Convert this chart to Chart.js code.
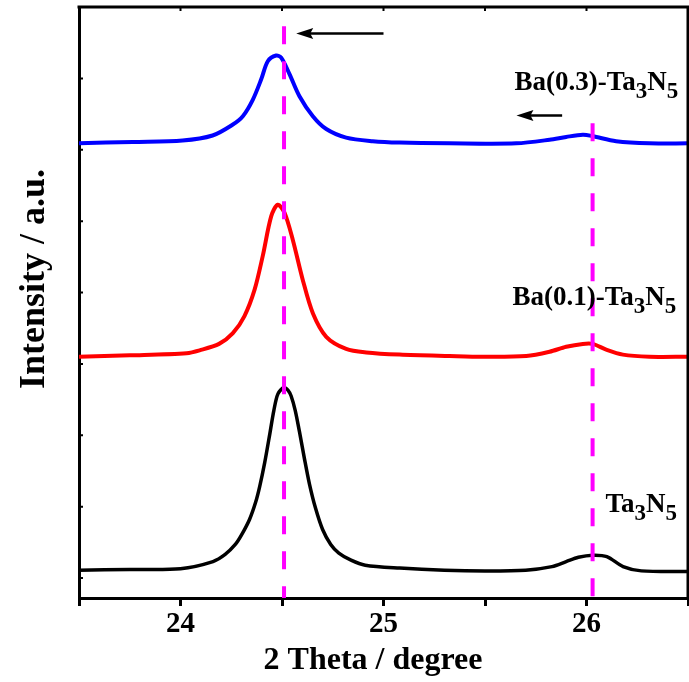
<!DOCTYPE html>
<html>
<head>
<meta charset="utf-8">
<script src="https://cdn.jsdelivr.net/npm/chart.js@4.4.1/dist/chart.umd.min.js"></script>
<style>
  html, body { margin: 0; padding: 0; background: #fff; }
  #wrap { width: 689px; height: 682px; }
</style>
</head>
<body>
<div id="wrap"><canvas id="xrdChart"></canvas></div>
<script>
// XRD patterns, 2 theta vs offset intensity (a.u.)
var ta3n5X = [23.5, 23.75, 24.0, 24.16, 24.22, 24.27, 24.30, 24.34, 24.37, 24.39, 24.415, 24.44, 24.46, 24.48, 24.51, 24.53, 24.545, 24.565, 24.586, 24.61, 24.635, 24.665, 24.70, 24.74, 24.78, 24.84, 24.91, 25.08, 25.3, 25.5, 25.7, 25.83, 25.9, 25.96, 26.03, 26.1, 26.18, 26.27, 26.5];
var ta3n5Y = [0.11, 0.12, 0.13, 0.23, 0.33, 0.47, 0.60, 0.82, 1.06, 1.28, 1.62, 2.02, 2.35, 2.58, 2.67, 2.63, 2.55, 2.35, 2.05, 1.68, 1.32, 0.98, 0.68, 0.47, 0.35, 0.25, 0.18, 0.14, 0.11, 0.1, 0.11, 0.16, 0.23, 0.29, 0.32, 0.3, 0.16, 0.1, 0.09];

var ba01X = [23.5, 23.75, 24.03, 24.094, 24.19, 24.258, 24.315, 24.365, 24.405, 24.447, 24.479, 24.512, 24.553, 24.602, 24.652, 24.718, 24.816, 24.915, 25.079, 25.325, 25.488, 25.703, 25.818, 25.9, 25.982, 26.031, 26.097, 26.179, 26.31, 26.5];
var ba01Y = [3.10, 3.12, 3.15, 3.19, 3.28, 3.43, 3.67, 4.04, 4.51, 5.07, 5.23, 5.12, 4.74, 4.18, 3.71, 3.38, 3.21, 3.16, 3.13, 3.11, 3.10, 3.11, 3.17, 3.24, 3.28, 3.28, 3.20, 3.13, 3.10, 3.10];

var ba03X = [23.5, 23.764, 24.01, 24.158, 24.256, 24.307, 24.356, 24.398, 24.43, 24.471, 24.496, 24.537, 24.586, 24.652, 24.718, 24.816, 24.947, 25.079, 25.325, 25.654, 25.818, 25.9, 25.982, 26.031, 26.146, 26.31, 26.5];
var ba03Y = [6.09, 6.11, 6.13, 6.20, 6.35, 6.47, 6.70, 6.99, 7.24, 7.32, 7.29, 7.06, 6.75, 6.47, 6.29, 6.17, 6.12, 6.10, 6.09, 6.09, 6.14, 6.18, 6.21, 6.19, 6.12, 6.09, 6.09];

// dashed guide lines at the Ta3N5 peak positions
var peakX = [24.51, 26.03];
var peakTop = [7.73, 6.37];

var xTickLabels = ["24", "25", "26"];
var yTickValues = [0, 1, 2, 3, 4, 5, 6, 7];

var seriesLabels = [
  { main: "Ba(0.3)-Ta", x: 25.645, y: 6.84 },
  { main: "Ba(0.1)-Ta", x: 25.635, y: 3.83 },
  { main: "Ta", x: 26.094, y: 0.926 }
];
var arrows = [
  { from: 25.0, to: 24.57, y: 7.63 },
  { from: 25.88, to: 25.655, y: 6.48 }
];

var serif = "'Liberation Serif', 'Times New Roman', serif";

function toPoints(xs, ys) {
  return xs.map(function (x, i) { return { x: x, y: ys[i] }; });
}

var curveStyle = {
  showLine: true,
  pointRadius: 0,
  fill: false,
  tension: 0.3,
  order: 2
};

var datasets = [
  Object.assign({ label: "Ta3N5", data: toPoints(ta3n5X, ta3n5Y), borderColor: "#000000", borderWidth: 3.5 }, curveStyle),
  Object.assign({ label: "Ba(0.1)-Ta3N5", data: toPoints(ba01X, ba01Y), borderColor: "#ff0000", borderWidth: 4 }, curveStyle),
  Object.assign({ label: "Ba(0.3)-Ta3N5", data: toPoints(ba03X, ba03Y), borderColor: "#0000ff", borderWidth: 4 }, curveStyle)
];

peakX.forEach(function (px, i) {
  datasets.push({
    label: "peak " + px,
    data: [{ x: px, y: peakTop[i] }, { x: px, y: -0.28 }],
    showLine: true,
    pointRadius: 0,
    borderColor: "#ff00ff",
    borderWidth: 4,
    borderDash: [18, 17],
    order: 0
  });
});

// frame, inner ticks, arrows, axis titles and the series names
var decorations = {
  id: "decorations",
  afterDatasetsDraw: function (chart) {
    var ctx = chart.ctx;
    var area = chart.chartArea;
    var xs = chart.scales.x;
    var ys = chart.scales.y;
    ctx.save();
    ctx.strokeStyle = "#000";
    ctx.fillStyle = "#000";

    ctx.lineWidth = 3;
    ctx.beginPath();
    ctx.moveTo(area.left - 1.5, area.top);
    ctx.lineTo(area.right, area.top);
    ctx.lineTo(area.right, area.bottom);
    ctx.stroke();

    ctx.lineWidth = 2;
    ctx.beginPath();
    yTickValues.forEach(function (v) {
      var py = ys.getPixelForValue(v);
      ctx.moveTo(area.left, py);
      ctx.lineTo(area.left + 4, py);
    });
    [24, 24.5, 25, 25.5, 26].forEach(function (v) {
      var px = xs.getPixelForValue(v);
      ctx.moveTo(px, area.top);
      ctx.lineTo(px, area.top + 4);
    });
    ctx.stroke();

    arrows.forEach(function (a) {
      var x1 = xs.getPixelForValue(a.from);
      var x2 = xs.getPixelForValue(a.to);
      var py = ys.getPixelForValue(a.y);
      ctx.lineWidth = 2.5;
      ctx.beginPath();
      ctx.moveTo(x1, py);
      ctx.lineTo(x2 + 12, py);
      ctx.stroke();
      ctx.beginPath();
      ctx.moveTo(x2, py);
      ctx.lineTo(x2 + 17, py - 5.5);
      ctx.lineTo(x2 + 14, py);
      ctx.lineTo(x2 + 17, py + 5.5);
      ctx.closePath();
      ctx.fill();
    });

    ctx.textBaseline = "alphabetic";
    ctx.textAlign = "left";
    seriesLabels.forEach(function (l) {
      var px = xs.getPixelForValue(l.x);
      var py = ys.getPixelForValue(l.y);
      var parts = [[l.main, false], ["3", true], ["N", false], ["5", true]];
      parts.forEach(function (p) {
        ctx.font = p[1] ? "bold 23px " + serif : "bold 27px " + serif;
        ctx.fillText(p[0], px, p[1] ? py + 8 : py);
        px += ctx.measureText(p[0]).width;
      });
    });

    // axis titles
    ctx.textAlign = "center";
    ctx.textBaseline = "middle";
    ctx.font = "bold 32px " + serif;
    ctx.fillText("2 Theta / degree", 373, 661);
    ctx.translate(35, 279);
    ctx.rotate(-Math.PI / 2);
    ctx.font = "bold 36px " + serif;
    ctx.fillText("Intensity / a.u.", 0, 0);
    ctx.restore();
  }
};

var ctx = document.getElementById("xrdChart").getContext("2d");
var xrdChart = new Chart(ctx, {
  type: "scatter",
  data: { datasets: datasets },
  options: {
    responsive: true,
    maintainAspectRatio: false,
    animation: false,
    layout: { padding: { top: 7, right: 1, left: 0, bottom: 0 } },
    plugins: { legend: { display: false }, tooltip: { enabled: false } },
    scales: {
      x: {
        type: "linear",
        min: 23.5,
        max: 26.5,
        afterFit: function (scale) { scale.height = 84; },
        afterBuildTicks: function (scale) {
          scale.ticks = [23.5, 24, 24.5, 25, 25.5, 26, 26.5].map(function (v) { return { value: v }; });
        },
        ticks: {
          autoSkip: false,
          maxRotation: 0,
          padding: 1,
          color: "#000",
          font: { family: serif, size: 29, weight: "bold" },
          callback: function (value) {
            var i = xTickLabels.indexOf(String(value));
            return i >= 0 ? xTickLabels[i] : "";
          }
        },
        grid: { drawOnChartArea: false, drawTicks: true, tickLength: 8, tickWidth: 3, tickColor: "#000" },
        border: { display: true, color: "#000", width: 3 }
      },
      y: {
        type: "linear",
        min: -0.28,
        max: 8.0,
        afterFit: function (scale) { scale.width = 79; },
        ticks: { display: false, stepSize: 1 },
        grid: { drawOnChartArea: false, drawTicks: false },
        border: { display: true, color: "#000", width: 3 }
      }
    }
  },
  plugins: [decorations]
});
</script>
</body>
</html>
